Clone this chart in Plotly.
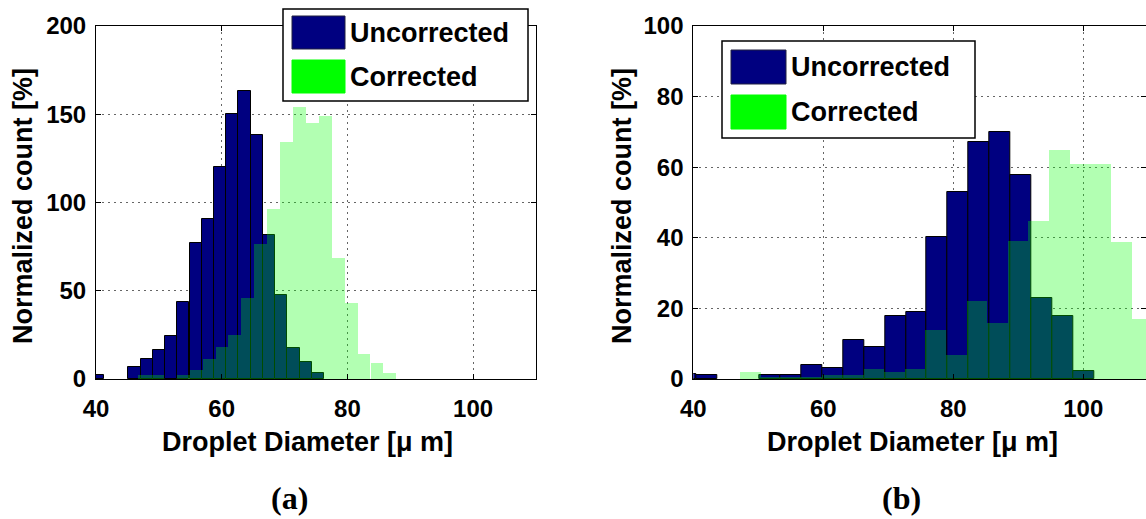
import plotly.graph_objects as go

W, H = 1146, 519

# ---------------- data ----------------
# Panel (a)
a_unc_centers = [40.28, 46.12, 48.07, 50.01, 51.96, 53.90, 55.85, 57.80, 59.74,
                 61.69, 63.63, 65.58, 67.53, 69.47, 71.42, 73.36, 75.31]
a_unc_counts = [2.5, 6.6, 11.1, 16.4, 24.3, 43.4, 77.2, 90.6, 120.2,
                150.4, 163.2, 138.5, 81.5, 47.6, 17.4, 9.8, 3.6]
a_unc_width = 1.946

a_cor_centers = [47.73, 49.78, 51.83, 53.89, 55.94, 58.00, 60.05, 62.10, 64.16, 66.21,
                 68.27, 70.32, 72.37, 74.43, 76.48, 78.54, 80.59, 82.64, 84.70, 86.75]
a_cor_counts = [2.3, 2.3, 0, 2.3, 5.1, 11.1, 18.3, 24.9, 45.8, 76.3,
                96.2, 134.3, 154.2, 145.3, 149.0, 68.3, 43.2, 14.2, 9.2, 3.2]
a_cor_width = 2.053

# Panel (b)
b_unc_centers = [38.89, 42.11, 51.77, 54.99, 58.21, 61.43, 64.65, 67.87, 71.09,
                 74.31, 77.53, 80.75, 83.97, 87.19, 90.41, 93.63, 96.85, 100.07]
b_unc_counts = [1.5, 1.0, 1.0, 1.0, 4.1, 3.1, 11.1, 9.1, 17.9,
                19.1, 40.1, 53.1, 67.1, 69.9, 57.8, 22.9, 17.9, 2.2]
b_unc_width = 3.22

b_cor_centers = [48.82, 51.99, 55.16, 58.33, 61.50, 64.67, 67.84, 71.01, 74.18, 77.35,
                 80.52, 83.69, 86.86, 90.03, 93.20, 96.37, 99.54, 102.71, 105.88, 109.05]
b_cor_counts = [1.9, 0.6, 0.6, 0.6, 1.0, 1.0, 2.9, 1.9, 2.9, 13.8,
                6.9, 22.0, 15.8, 39.0, 44.9, 64.9, 60.9, 60.9, 38.9, 17.1]
b_cor_width = 3.17

series_names = ["Uncorrected", "Corrected"]
x_title = "Droplet Diameter [μ m]"
y_title = "Normalized count [%]"
panel_labels = ["(a)", "(b)"]
a_yticks = [0, 50, 100, 150, 200]
b_yticks = [0, 20, 40, 60, 80, 100]
xticks = [40, 60, 80, 100]

# ---------------- styling ----------------
NAVY = "#000080"
GREEN_T = "rgba(0,255,0,0.3)"
GREEN = "#00ff00"
FONT = "Liberation Sans"


def px(x):
    return x / W


def py(y):
    return 1 - y / H


fig = go.Figure()

fig.add_trace(go.Bar(x=a_unc_centers, y=a_unc_counts, width=a_unc_width,
                     marker=dict(color=NAVY, line=dict(color="black", width=1)),
                     name=series_names[0], showlegend=False, xaxis="x", yaxis="y"))
fig.add_trace(go.Bar(x=a_cor_centers, y=a_cor_counts, width=a_cor_width,
                     marker=dict(color=GREEN_T, line=dict(width=0)),
                     name=series_names[1], showlegend=False, xaxis="x", yaxis="y"))
fig.add_trace(go.Bar(x=b_unc_centers, y=b_unc_counts, width=b_unc_width,
                     marker=dict(color=NAVY, line=dict(color="black", width=1)),
                     name=series_names[0], showlegend=False, xaxis="x2", yaxis="y2"))
fig.add_trace(go.Bar(x=b_cor_centers, y=b_cor_counts, width=b_cor_width,
                     marker=dict(color=GREEN_T, line=dict(width=0)),
                     name=series_names[1], showlegend=False, xaxis="x2", yaxis="y2"))

tickfont = dict(family=FONT, size=24, color="black", weight="bold")
grid = dict(showgrid=True, gridcolor="rgba(0,0,0,0.6)", gridwidth=1, griddash="2px,4px",
            showline=True, linecolor="black", linewidth=1, mirror="allticks",
            ticks="inside", ticklen=5, tickcolor="black", zeroline=False,
            tickfont=tickfont, automargin=False)

fig.update_layout(
    width=W, height=H,
    margin=dict(l=0, r=0, t=0, b=0, autoexpand=False),
    paper_bgcolor="white", plot_bgcolor="white",
    barmode="overlay", bargap=0,
    showlegend=False,
    xaxis=dict(domain=[px(96), px(536)], range=[40, 110], tickvals=xticks,
               anchor="y", ticklabelstandoff=8, **grid),
    yaxis=dict(domain=[py(379), py(26)], range=[0, 200], tickvals=a_yticks,
               anchor="x", ticklabelstandoff=4, **grid),
    xaxis2=dict(domain=[px(693.3), 1.0], range=[40, 109.65], tickvals=xticks,
                anchor="y2", ticklabelstandoff=8, **grid),
    yaxis2=dict(domain=[py(379), py(26)], range=[0, 100], tickvals=b_yticks,
                anchor="x2", ticklabelstandoff=4, **grid),
)

shapes = []
annotations = []
lab_font = dict(family=FONT, size=27, color="black", weight="bold")


def legend(box, patch_x, rows, text_x):
    x0, y0, x1, y1 = box
    shapes.append(dict(type="rect", xref="paper", yref="paper",
                       x0=px(x0), x1=px(x1), y0=py(y1), y1=py(y0),
                       line=dict(color="black", width=1.5), fillcolor="white", layer="above"))
    colors = [NAVY, GREEN]
    lines = ["#202040", GREEN]
    for (ya, yb), col, lc, name in zip(rows, colors, lines, series_names):
        shapes.append(dict(type="rect", xref="paper", yref="paper",
                           x0=px(patch_x[0]), x1=px(patch_x[1]), y0=py(yb), y1=py(ya),
                           line=dict(color=lc, width=1), fillcolor=col, layer="above"))
        annotations.append(dict(xref="paper", yref="paper", x=px(text_x), y=py((ya + yb) / 2),
                                text=name, showarrow=False, xanchor="left", yanchor="middle",
                                font=lab_font))


legend((283, 9, 528, 101), (292, 345), [(16, 49), (60, 93)], 348)
legend((722, 41, 975, 138), (731, 786), [(50, 84), (95, 129)], 789)

# axis titles and panel labels
for xc in (307.5, 912):
    annotations.append(dict(xref="paper", yref="paper", x=px(xc), y=py(442),
                            text=x_title, showarrow=False, xanchor="center", yanchor="middle",
                            font=lab_font))
for xc in (23, 622):
    annotations.append(dict(xref="paper", yref="paper", x=px(xc), y=py(206),
                            text=y_title, showarrow=False, xanchor="center", yanchor="middle",
                            textangle=-90, font=lab_font))
for xc, lab in zip((289, 901), panel_labels):
    annotations.append(dict(xref="paper", yref="paper", x=px(xc), y=py(498),
                            text=lab, showarrow=False, xanchor="center", yanchor="middle",
                            font=dict(family="Liberation Serif", size=32, color="black",
                                      weight="bold")))

fig.update_layout(shapes=shapes, annotations=annotations)

fig.write_html("out.html")
